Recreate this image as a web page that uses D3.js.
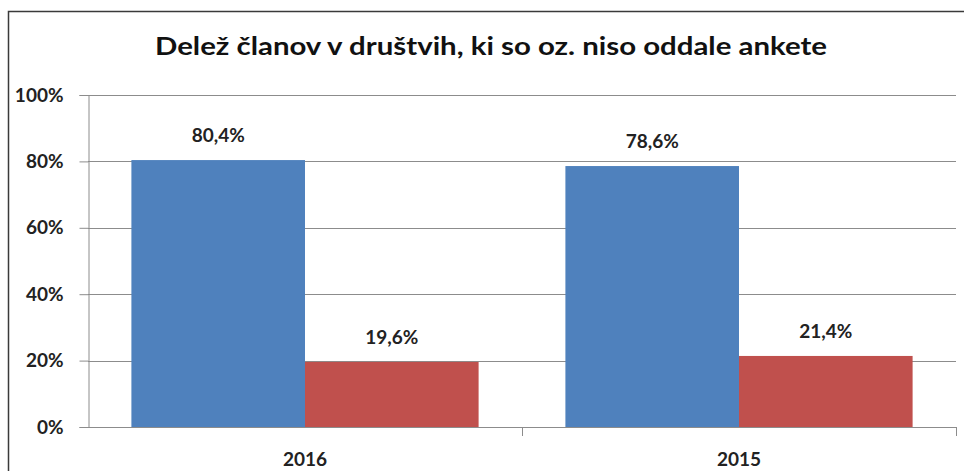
<!DOCTYPE html>
<html><head><meta charset="utf-8">
<script src="https://cdn.jsdelivr.net/npm/d3@7"></script>
<style>body{margin:0;background:#fff}svg{display:block}text{font-family:Lato,"Open Sans",sans-serif;font-weight:bold}</style>
</head><body>
<script>
const title = "Delež članov v društvih, ki so oz. niso oddale ankete";
const categories = ["2016", "2015"];
const seriesNames = ["oddale", "niso oddale"];
const seriesA = [80.4, 78.6];
const seriesB = [19.6, 21.4];
const yTicks = [0, 20, 40, 60, 80, 100];
const colors = ["#4F81BD", "#C0504D"];

const W = 964, H = 471;
const svg = d3.select("body").append("svg").attr("width", W).attr("height", H);
svg.append("rect").attr("x", 8.5).attr("y", 11.5).attr("width", W).attr("height", H)
  .attr("fill", "#fff").attr("stroke", "#3a3a3a").attr("stroke-width", 1.5);

const m = {l: 88, r: 956, t: 95, b: 427};
const x = d3.scaleBand().domain(categories).range([m.l, m.r]).paddingInner(0).paddingOuter(0);
const y = d3.scaleLinear().domain([0, 100]).range([m.b, m.t]);

// gridlines
svg.append("g").selectAll("line").data(yTicks.filter(d => d > 0)).join("line")
  .attr("x1", m.l).attr("x2", m.r).attr("y1", d => Math.round(y(d)) + 0.5).attr("y2", d => Math.round(y(d)) + 0.5)
  .attr("stroke", "#8c8c8c").attr("stroke-width", 1);

const fs = 19;
// y axis
const yAxis = d3.axisLeft(y).tickValues(yTicks).tickFormat(d => d + "%").tickSize(9).tickPadding(16);
const gy = svg.append("g").attr("transform", `translate(${m.l + 0.5},0)`).call(yAxis);
gy.select(".domain").attr("stroke", "#8c8c8c");
gy.selectAll(".tick line").attr("stroke", "#8c8c8c");
gy.selectAll(".tick text").attr("font-size", fs).attr("fill", "#222").attr("font-family", "Lato").attr("font-weight", "bold");

// x axis
const xAxis = d3.axisBottom(x).tickSize(0).tickPadding(25);
const gx = svg.append("g").attr("transform", `translate(0,${m.b + 0.5})`).call(xAxis);
gx.select(".domain").attr("stroke", "#8c8c8c").attr("d", `M${m.l},0H${m.r}`);
gx.selectAll(".tick text").attr("font-size", fs).attr("fill", "#222").attr("font-family", "Lato").attr("font-weight", "bold");
// category separator ticks
svg.append("g").selectAll("line").data(categories).join("line")
  .attr("x1", d => x(d) + x.bandwidth() + 0.5).attr("x2", d => x(d) + x.bandwidth() + 0.5)
  .attr("y1", m.b).attr("y2", m.b + 9).attr("stroke", "#8c8c8c");

// bars
const inner = d3.scaleBand().domain([0, 1]).range([0, x.bandwidth()]).paddingInner(0).paddingOuter(0.25);
const data = [];
categories.forEach((c, i) => {
  data.push({c, s: 0, v: seriesA[i]});
  data.push({c, s: 1, v: seriesB[i]});
});
svg.append("g").selectAll("rect").data(data).join("rect")
  .attr("x", d => x(d.c) + inner(d.s))
  .attr("width", inner.bandwidth())
  .attr("y", d => y(d.v))
  .attr("height", d => y(0) - y(d.v))
  .attr("fill", d => colors[d.s]);

// labels
svg.append("g").selectAll("text").data(data).join("text")
  .attr("x", d => x(d.c) + inner(d.s) + inner.bandwidth() / 2)
  .attr("y", d => y(d.v) - 18)
  .attr("text-anchor", "middle").attr("font-size", fs).attr("fill", "#222")
  .text(d => d.v.toFixed(1).replace(".", ",") + "%");

// title
svg.append("text").attr("x", 491).attr("y", 55).attr("text-anchor", "middle")
  .attr("font-size", 25).attr("fill", "#111")
  .attr("textLength", 672).attr("lengthAdjust", "spacingAndGlyphs").text(title);
</script>
</body></html>
